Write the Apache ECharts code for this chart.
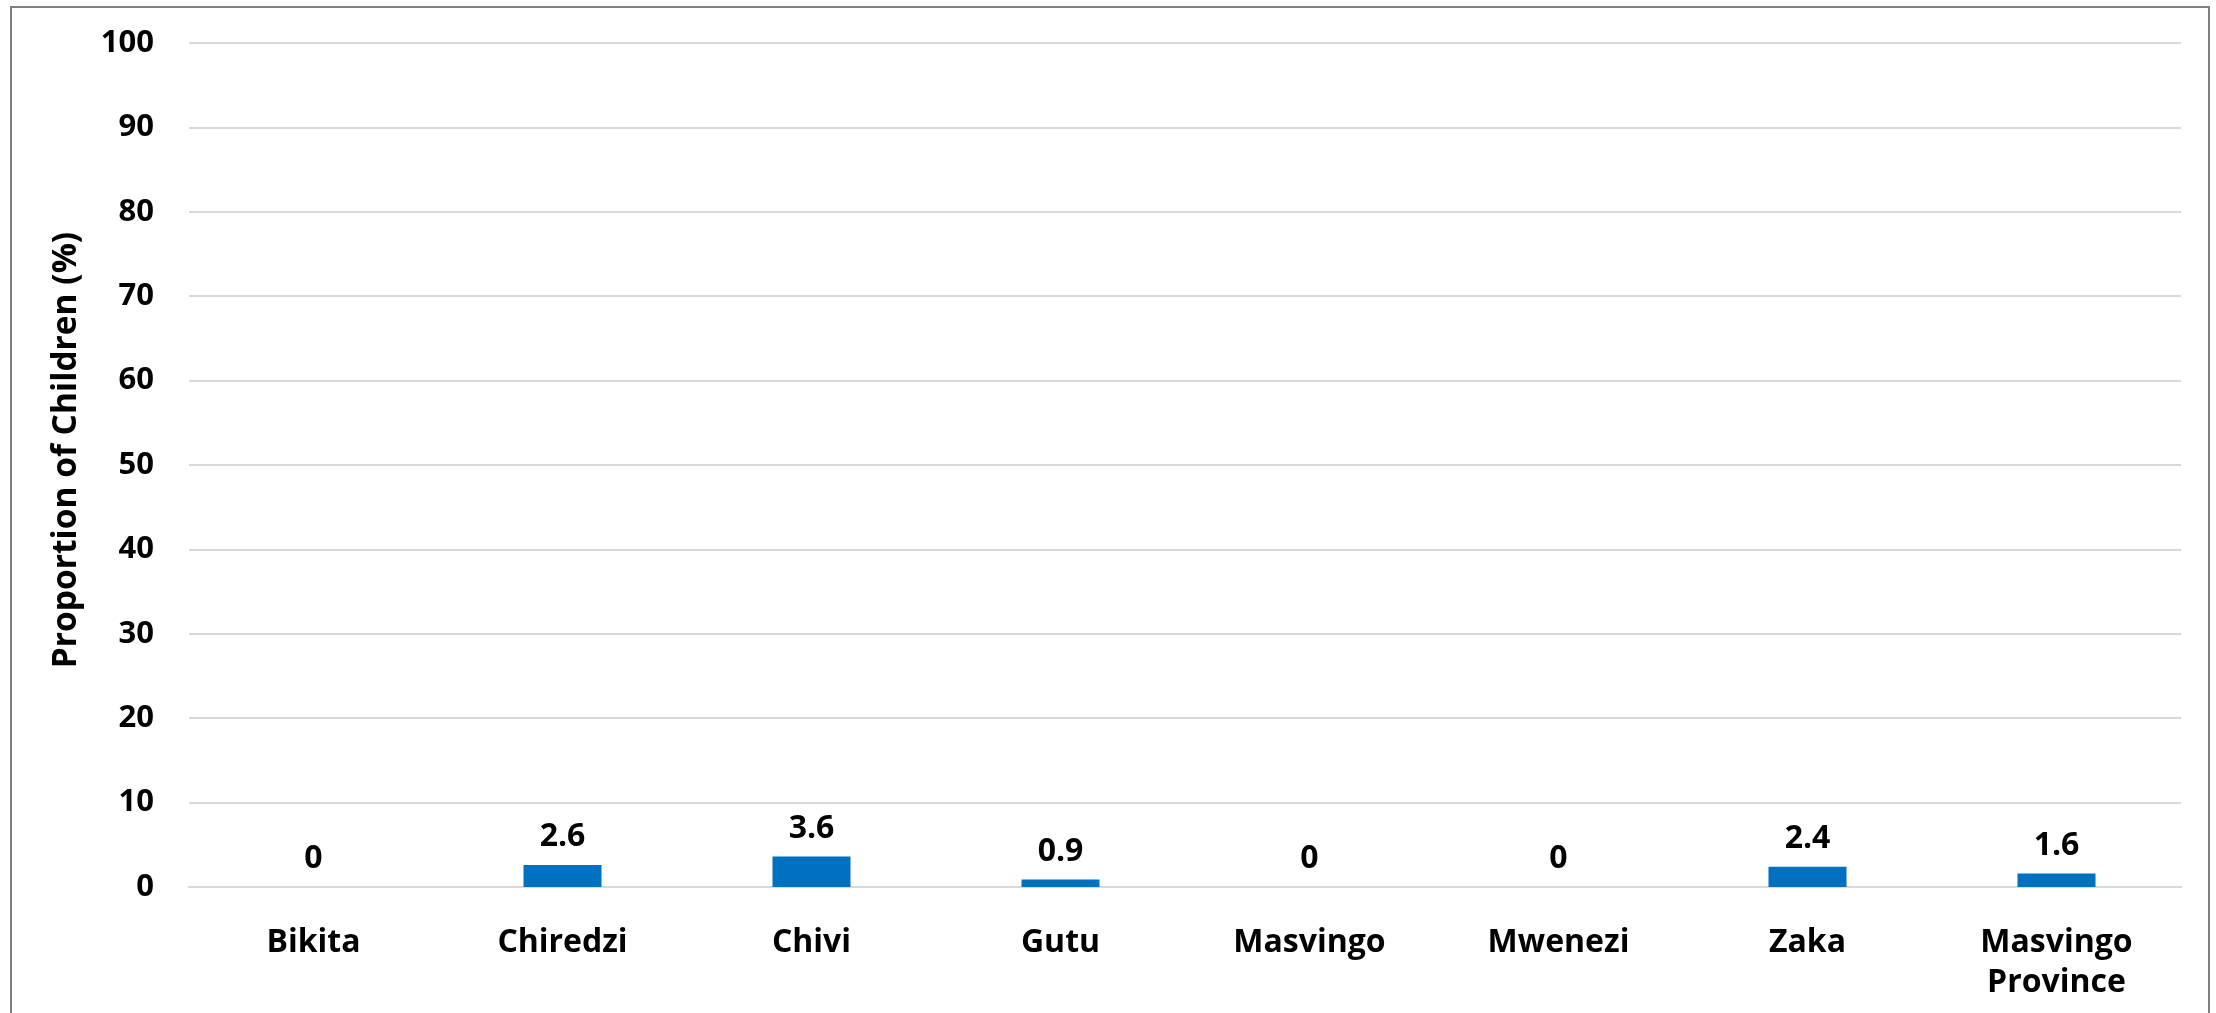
<!DOCTYPE html>
<html>
<head>
<meta charset="utf-8">
<title>Proportion of Children by District</title>
<script src="https://cdn.jsdelivr.net/npm/echarts@6/dist/echarts.min.js"></script>
<style>
  html, body { margin: 0; padding: 0; background: #ffffff; }
  #chart { width: 2216px; height: 1013px; }
</style>
</head>
<body>
<div id="chart"></div>
<script>
// Districts of Masvingo and the provincial total
const districts = ['Bikita', 'Chiredzi', 'Chivi', 'Gutu', 'Masvingo', 'Mwenezi', 'Zaka', 'Masvingo\nProvince'];
// Proportion of children (%) per district
const proportions = [0, 2.6, 3.6, 0.9, 0, 0, 2.4, 1.6];
// Y-axis range
const yMin = 0;
const yMax = 100;
const yStep = 10;

const FONT = '"Open Sans", "Liberation Sans", sans-serif';

const chart = echarts.init(document.getElementById('chart'), null, { renderer: 'canvas' });

chart.setOption({
  animation: false,
  backgroundColor: '#ffffff',
  graphic: [{
    type: 'rect',
    shape: { x: 11, y: 7, width: 2198, height: 1040 },
    style: { fill: 'none', stroke: '#808080', lineWidth: 2 },
    silent: true
  }],
  grid: { left: 189, right: 35, top: 43, bottom: 126, containLabel: false },
  xAxis: {
    type: 'category',
    data: districts,
    axisLine: { show: true, lineStyle: { color: '#d9d9d9', width: 2 } },
    axisTick: { show: false },
    axisLabel: {
      interval: 0,
      margin: 36,
      color: '#000000',
      fontFamily: FONT,
      fontWeight: 'bold',
      fontSize: 32,
      lineHeight: 40
    }
  },
  yAxis: {
    type: 'value',
    min: yMin,
    max: yMax,
    interval: yStep,
    name: 'Proportion of Children (%)',
    nameLocation: 'middle',
    nameGap: 106,
    nameTextStyle: {
      color: '#000000',
      fontFamily: FONT,
      fontWeight: 'bold',
      fontSize: 33.5,
      padding: [0, 0, 0, 30]
    },
    axisLine: { show: false },
    axisTick: { show: false },
    splitLine: { show: true, lineStyle: { color: '#d9d9d9', width: 2 } },
    axisLabel: {
      margin: 35,
      color: '#000000',
      fontFamily: FONT,
      fontWeight: 'bold',
      fontSize: 31
    }
  },
  series: [{
    type: 'bar',
    data: proportions,
    barWidth: 78,
    itemStyle: { color: '#0070C0' },
    label: {
      show: true,
      position: 'top',
      distance: 12,
      color: '#000000',
      fontFamily: FONT,
      fontWeight: 'bold',
      fontSize: 32
    }
  }]
});
</script>
</body>
</html>
